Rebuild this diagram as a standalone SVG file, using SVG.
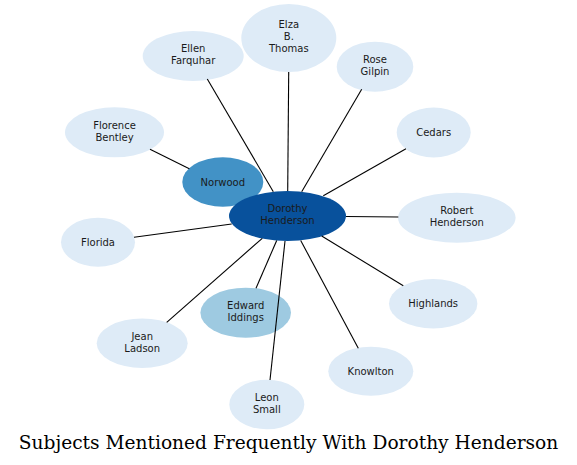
<svg xmlns="http://www.w3.org/2000/svg" width="577" height="465" viewBox="0 0 577 465">
<style>
.n{font-family:"DejaVu Sans",sans-serif;font-size:10px;fill:#1a1a1a;text-anchor:middle}
.l1{fill:#deebf7}
.l2{fill:#9ecae1}
.l3{fill:#4292c6}
.l4{fill:#08519c}
.e line{stroke:#000;stroke-width:1.1}
.t{font-family:"DejaVu Serif",serif;font-size:18.6px;fill:#000;text-anchor:middle}
</style>
<rect width="577" height="465" fill="#fff"/>
<g id="nodes">
<g id="ellen"><ellipse class="l1" cx="193.2" cy="56" rx="50.5" ry="25"/><text class="n" x="193.2" y="52">Ellen</text><text class="n" x="193.2" y="64">Farquhar</text></g>
<g id="elza"><ellipse class="l1" cx="288.8" cy="38" rx="47.5" ry="34"/><text class="n" x="288.8" y="28">Elza</text><text class="n" x="288.8" y="40">B.</text><text class="n" x="288.8" y="52">Thomas</text></g>
<g id="rose"><ellipse class="l1" cx="375" cy="66.7" rx="38.3" ry="25"/><text class="n" x="375" y="63">Rose</text><text class="n" x="375" y="75">Gilpin</text></g>
<g id="cedars"><ellipse class="l1" cx="433.7" cy="132.5" rx="37" ry="25"/><text class="n" x="433.7" y="136">Cedars</text></g>
<g id="robert"><ellipse class="l1" cx="456.8" cy="217.7" rx="58.8" ry="25"/><text class="n" x="456.8" y="214">Robert</text><text class="n" x="456.8" y="226">Henderson</text></g>
<g id="highlands"><ellipse class="l1" cx="433.2" cy="303.7" rx="44.2" ry="24.7"/><text class="n" x="433.2" y="307">Highlands</text></g>
<g id="knowlton"><ellipse class="l1" cx="370.8" cy="371.2" rx="42.5" ry="24.5"/><text class="n" x="370.8" y="375">Knowlton</text></g>
<g id="leon"><ellipse class="l1" cx="266.8" cy="404.5" rx="37.5" ry="24.8"/><text class="n" x="266.8" y="401">Leon</text><text class="n" x="266.8" y="413">Small</text></g>
<g id="jean"><ellipse class="l1" cx="142.2" cy="343.2" rx="45.5" ry="24.8"/><text class="n" x="142.2" y="340">Jean</text><text class="n" x="142.2" y="352">Ladson</text></g>
<g id="florida"><ellipse class="l1" cx="98" cy="242.2" rx="37" ry="24.5"/><text class="n" x="98" y="246">Florida</text></g>
<g id="florence"><ellipse class="l1" cx="114.5" cy="132.3" rx="49.5" ry="25"/><text class="n" x="114.5" y="129">Florence</text><text class="n" x="114.5" y="141">Bentley</text></g>
<g id="edward"><ellipse class="l2" cx="245.7" cy="312.7" rx="45.3" ry="25"/><text class="n" x="245.7" y="309">Edward</text><text class="n" x="245.7" y="321">Iddings</text></g>
<g id="norwood"><ellipse class="l3" cx="222.8" cy="182" rx="40.5" ry="24.7"/><text class="n" x="222.8" y="186">Norwood</text></g>
<g id="dorothy"><ellipse class="l4" cx="287.5" cy="216" rx="58.5" ry="25"/><text class="n" x="287.5" y="212">Dorothy</text><text class="n" x="287.5" y="224">Henderson</text></g>
</g>
<g id="connectors" class="e">
<line x1="273.3" y1="191.7" x2="207.3" y2="79"/>
<line x1="287.7" y1="191" x2="288.7" y2="72"/>
<line x1="301.7" y1="191.7" x2="361.7" y2="89.3"/>
<line x1="323.3" y1="195.7" x2="406" y2="148.7"/>
<line x1="346" y1="216.5" x2="398.3" y2="217"/>
<line x1="321.7" y1="236" x2="403.3" y2="285.8"/>
<line x1="300.7" y1="240.5" x2="358.3" y2="348.3"/>
<line x1="285" y1="241" x2="270" y2="380"/>
<line x1="276.7" y1="240.5" x2="256" y2="288.3"/>
<line x1="262.3" y1="238.3" x2="166.7" y2="322.3"/>
<line x1="231.7" y1="224" x2="134" y2="237.3"/>
<line x1="189.3" y1="168.7" x2="150" y2="149.3"/>
</g>
<text class="t" x="288.5" y="449">Subjects Mentioned Frequently With Dorothy Henderson</text>
</svg>
